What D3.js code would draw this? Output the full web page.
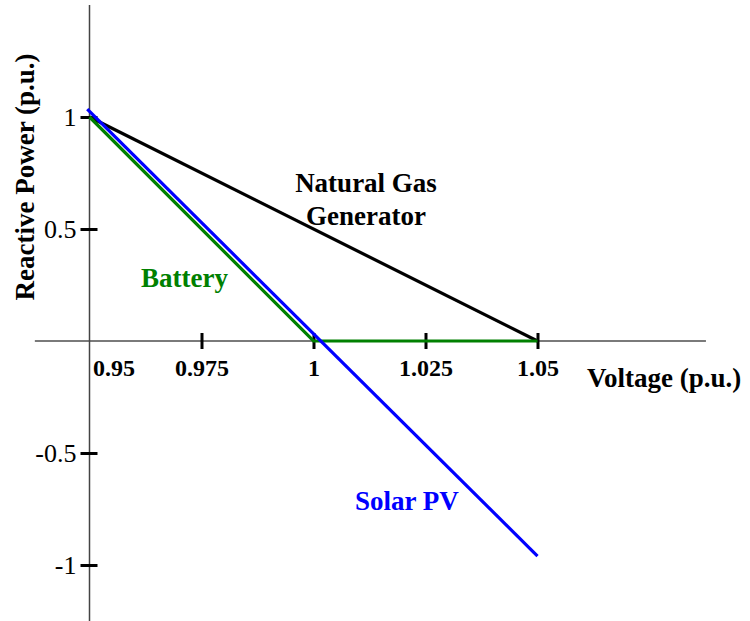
<!DOCTYPE html>
<html>
<head>
<meta charset="utf-8">
<script src="https://cdn.jsdelivr.net/npm/d3@7/dist/d3.min.js"></script>
<style>
  html, body { margin: 0; padding: 0; background: #fff; }
  svg { display: block; font-family: "Liberation Serif", "Times New Roman", serif; }
</style>
</head>
<body>
<svg id="chart" width="750" height="621"></svg>
<script>
// Reactive power droop curves (Q vs V), per unit
const xTicks = [0.95, 0.975, 1, 1.025, 1.05];
const xTickLabels = ["0.95", "0.975", "1", "1.025", "1.05"];
const yTicks = [1, 0.5, -0.5, -1];
const yTickLabels = ["1", "0.5", "-0.5", "-1"];

const gasV = [0.95, 1.05];
const gasQ = [1, 0];
const batteryV = [0.95, 1.0, 1.05];
const batteryQ = [1, 0, 0];
const solarV = [0.9495, 1.05];
const solarQ = [1.035, -0.96];

const seriesNames = ["Natural Gas", "Generator", "Battery", "Solar PV"];

const svg = d3.select("#chart");

const x = d3.scaleLinear().domain([0.95, 1.05]).range([89.5, 537.5]);
const y = d3.scaleLinear().domain([1, -1]).range([117, 565]);

// axis extents beyond the tick range
const xExtent = [0.9378, 1.0876];
const yExtent = [1.5, -1.26];

// axis lines
svg.append("line")
  .attr("x1", x(xExtent[0])).attr("x2", x(xExtent[1]))
  .attr("y1", y(0)).attr("y2", y(0))
  .attr("stroke", "#7a7a7a").attr("stroke-width", 2);
svg.append("line")
  .attr("x1", x(0.95)).attr("x2", x(0.95))
  .attr("y1", y(yExtent[0])).attr("y2", y(yExtent[1]))
  .attr("stroke", "#444").attr("stroke-width", 1.5);

// y axis ticks and labels
const yAxis = d3.axisLeft(y)
  .tickValues(yTicks)
  .tickFormat((d, i) => yTickLabels[i]);
const gy = svg.append("g")
  .attr("transform", `translate(${x(0.95)},0)`)
  .call(yAxis);
gy.select(".domain").remove();
gy.selectAll(".tick line")
  .attr("x1", -9).attr("x2", 8)
  .attr("stroke", "#000").attr("stroke-width", 3);
gy.selectAll(".tick text")
  .attr("x", -13).attr("dy", "0.34em")
  .attr("font-family", "Liberation Serif")
  .attr("font-size", 26).attr("fill", "#000");

// x axis ticks and labels
const xAxis = d3.axisBottom(x)
  .tickValues(xTicks)
  .tickFormat((d, i) => xTickLabels[i]);
const gx = svg.append("g")
  .attr("transform", `translate(0,${y(0)})`)
  .call(xAxis);
gx.select(".domain").remove();
gx.selectAll(".tick line")
  .attr("y1", -8).attr("y2", 8)
  .attr("stroke", "#000").attr("stroke-width", 3)
  .attr("display", d => d === 0.95 ? "none" : null);
gx.selectAll(".tick text")
  .attr("y", 35).attr("dy", 0)
  .attr("font-family", "Liberation Serif")
  .attr("font-weight", "bold")
  .attr("font-size", 24).attr("fill", "#000")
  .attr("text-anchor", d => d === 0.95 ? "start" : "middle")
  .attr("x", d => d === 0.95 ? 3 : 0);

// curves
const line = d3.line().x(d => x(d[0])).y(d => y(d[1]));
const series = [
  { v: gasV, q: gasQ, color: "#000000" },
  { v: batteryV, q: batteryQ, color: "#008000" },
  { v: solarV, q: solarQ, color: "#0000ff" }
];
series.forEach(s => {
  svg.append("path")
    .datum(s.v.map((v, i) => [v, s.q[i]]))
    .attr("d", line)
    .attr("fill", "none")
    .attr("stroke", s.color)
    .attr("stroke-width", 3.2);
});

// axis titles
svg.append("text")
  .attr("x", 587).attr("y", 387)
  .attr("font-weight", "bold").attr("font-size", 27)
  .text("Voltage (p.u.)");
svg.append("text")
  .attr("transform", "translate(34,177) rotate(-90)")
  .attr("text-anchor", "middle")
  .attr("font-weight", "bold").attr("font-size", 27)
  .text("Reactive Power (p.u.)");

// series labels
svg.append("text")
  .attr("x", 366).attr("y", 192)
  .attr("text-anchor", "middle")
  .attr("font-weight", "bold").attr("font-size", 27).attr("fill", "#000")
  .text(seriesNames[0]);
svg.append("text")
  .attr("x", 366).attr("y", 225)
  .attr("text-anchor", "middle")
  .attr("font-weight", "bold").attr("font-size", 27).attr("fill", "#000")
  .text(seriesNames[1]);
svg.append("text")
  .attr("x", 141).attr("y", 287)
  .attr("font-weight", "bold").attr("font-size", 27).attr("fill", "#008000")
  .text(seriesNames[2]);
svg.append("text")
  .attr("x", 355).attr("y", 510)
  .attr("font-weight", "bold").attr("font-size", 27).attr("fill", "#0000ff")
  .text(seriesNames[3]);
</script>
</body>
</html>
